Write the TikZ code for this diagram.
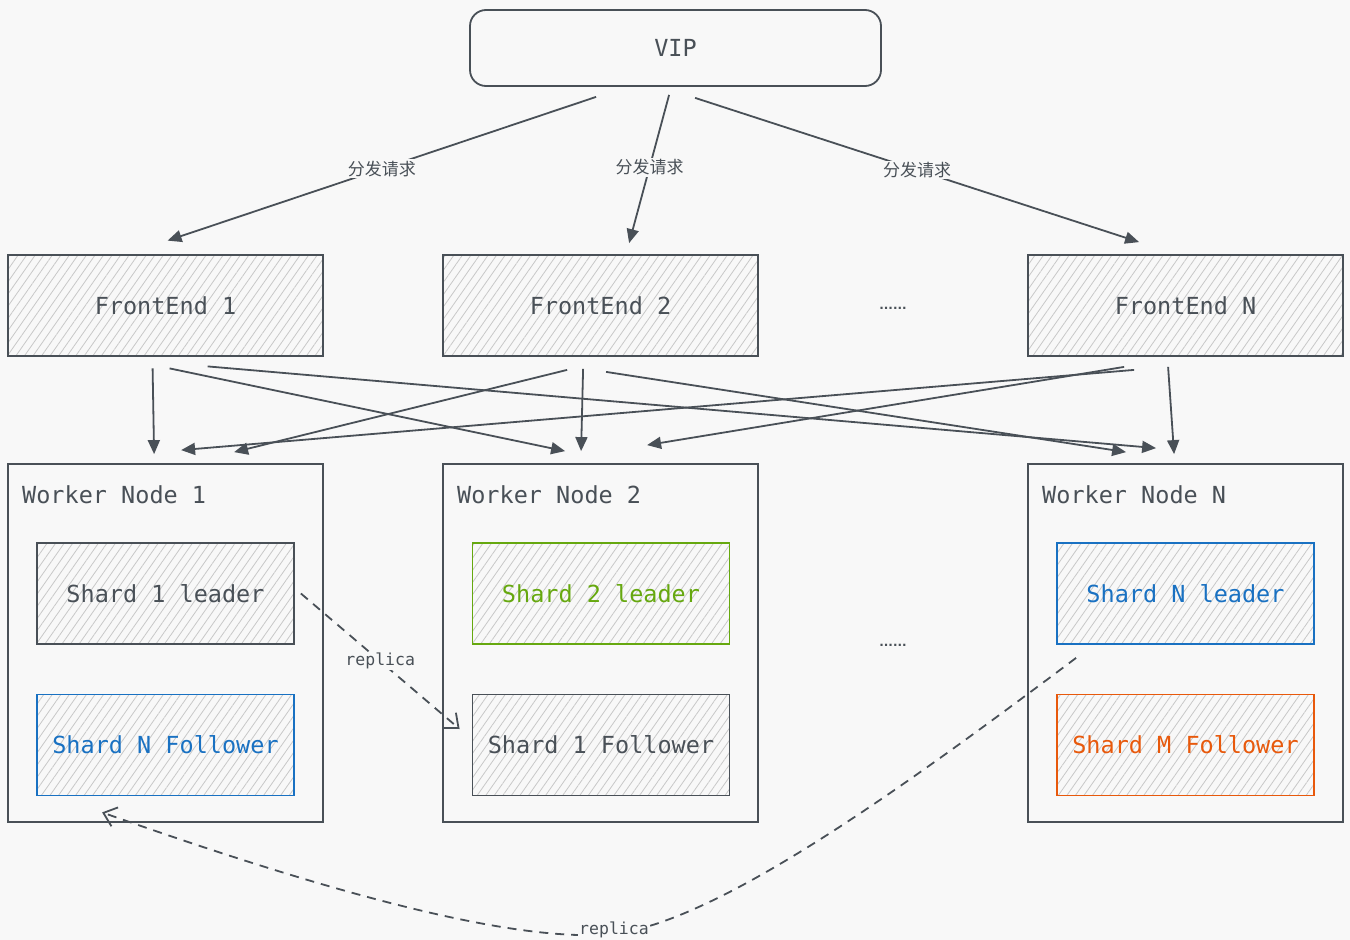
\documentclass[tikz,border=0pt]{standalone}
\usepackage{fontspec}
\setmonofont{DejaVu Sans Mono}
\newfontfamily\cjk{Noto Sans CJK SC}
\newfontfamily\dotfont{DejaVu Sans}
\usetikzlibrary{arrows.meta,patterns.meta,calc}
\definecolor{bg}{HTML}{F8F8F8}
\definecolor{ink}{HTML}{495057}
\definecolor{hatch}{HTML}{C8C8C8}
\definecolor{sgreen}{HTML}{66A80F}
\definecolor{sblue}{HTML}{1971C2}
\definecolor{sorange}{HTML}{E8590C}
\tikzset{
  mono/.style={font=\ttfamily\fontsize{23.5}{26}\selectfont, text=ink},
  hbox/.style={mono, draw=ink, line width=1.8pt, minimum width=315pt, minimum height=101pt,
    preaction={fill=bg}, pattern={Lines[angle=55,distance=7pt,line width=0.8pt]}, pattern color=hatch},
  shardbox/.style={hbox, minimum width=257pt},
  wbox/.style={draw=ink, line width=1.8pt, fill=bg, minimum width=315pt, minimum height=358pt},
  wtitle/.style={mono, anchor=west, inner sep=0pt},
  conn/.style={draw=ink, line width=1.8pt, -{Triangle[length=14pt,width=12pt]}},
  rep/.style={draw=ink, line width=1.8pt, dash pattern=on 9pt off 7pt, -{Straight Barb[length=12pt,width=20pt,line width=1.8pt]}},
  zh/.style={font=\cjk\fontsize{17}{19}\selectfont, text=ink, fill=bg, inner sep=1.5pt},
  replbl/.style={font=\ttfamily\fontsize{16.5}{18}\selectfont, text=ink, fill=bg, inner sep=1pt},
  dots/.style={font=\dotfont\bfseries\fontsize{12}{14}\selectfont, text=ink}
}
\begin{document}
\begin{tikzpicture}[x=1pt,y=-1pt]
\fill[bg] (0,0) rectangle (1350,940);
\useasboundingbox (0,0) rectangle (1350,940);

% VIP
\node[mono, draw=ink, line width=1.8pt, fill=bg, rounded corners=16pt, minimum width=411pt, minimum height=76pt] (vip) at (675.5,48) {VIP};

% FrontEnds
\node[hbox] (fe1) at (165.5,305.5) {FrontEnd 1};
\node[hbox] (fe2) at (600.5,305.5) {FrontEnd 2};
\node[hbox] (fen) at (1185.5,305.5) {FrontEnd N};
\node[dots] (d1) at (893,308) {......};

% Worker nodes
\node[wbox] (wn1) at (165.5,643) {};
\node[wbox] (wn2) at (600.5,643) {};
\node[wbox] (wnn) at (1185.5,643) {};
\node[wtitle] (wt1) at (22,495) {Worker Node 1};
\node[wtitle] (wt2) at (457,495) {Worker Node 2};
\node[wtitle] (wtn) at (1042,495) {Worker Node N};
\node[dots] (d2) at (893,645) {......};

% Shards
\node[shardbox] (sl1) at (165.5,593.5) {Shard 1 leader};
\node[shardbox, draw=sblue, text=sblue] (snf1) at (165.5,745) {Shard N Follower};
\node[shardbox, draw=sgreen, text=sgreen] (sl2) at (601,593.5) {Shard 2 leader};
\node[shardbox] (sf2) at (601,745) {Shard 1 Follower};
\node[shardbox, draw=sblue, text=sblue] (snl) at (1185.5,593.5) {Shard N leader};
\node[shardbox, draw=sorange, text=sorange] (smf) at (1185.5,745) {Shard M Follower};

% VIP -> FrontEnds
\draw[conn] ($(vip.south west)+(127,10)$) -- node[zh]{分发请求} ($(fe1.north west)+(160,-14)$);
\draw[conn] ($(vip.south west)+(200,8)$) -- node[zh, pos=0.49]{分发请求} ($(fe2.north west)+(187,-11)$);
\draw[conn] ($(vip.south west)+(226,11)$) -- node[zh]{分发请求} ($(fen.north west)+(112,-12)$);

% FrontEnds -> Worker nodes
\draw[conn] ($(fe1.south west)+(145,12)$) -- ($(wn1.north west)+(147,-9)$);
\draw[conn] ($(fe1.south west)+(162,12)$) -- ($(wn2.north west)+(123,-12)$);
\draw[conn] ($(fe1.south west)+(200,10)$) -- ($(wnn.north west)+(129,-15)$);
\draw[conn] ($(fe2.south west)+(125,13)$) -- ($(wn1.north west)+(227,-11)$);
\draw[conn] ($(fe2.south west)+(141,12)$) -- ($(wn2.north west)+(139,-12)$);
\draw[conn] ($(fe2.south west)+(164,15)$) -- ($(wnn.north west)+(99,-11)$);
\draw[conn] ($(fen.south west)+(97,10)$) -- ($(wn2.north west)+(205,-18)$);
\draw[conn] ($(fen.south west)+(107,13)$) -- ($(wn1.north west)+(174,-13)$);
\draw[conn] ($(fen.south west)+(141,10)$) -- ($(wnn.north west)+(147,-9)$);

% replicas
\draw[rep] ($(sl1.east)+(6,0)$) -- node[replbl]{replica} ($(sf2.west)+(-12,-16)$);
\coordinate (rbot) at (614,934);
\draw[rep] ($(snl.south west)+(20,13)$) .. controls (900,790) and (720,920) .. (rbot)
  .. controls (500,945) and (280,875) .. ($(snf1.south west)+(66,16)$);
\node[replbl] (rl2) at (614,930) {replica};
\end{tikzpicture}
\end{document}
